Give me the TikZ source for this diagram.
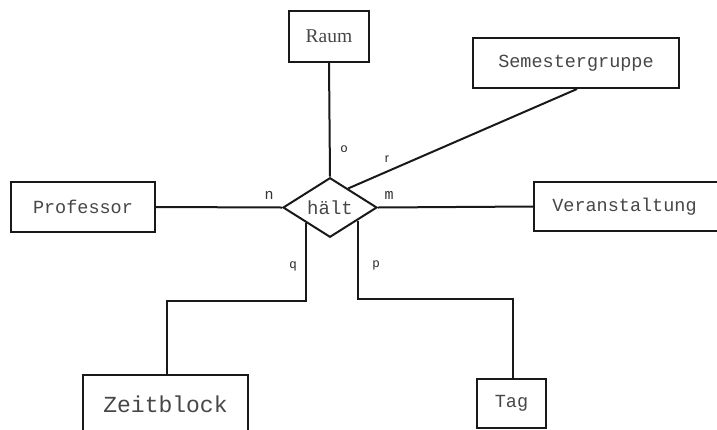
\documentclass[tikz,border=0pt]{standalone}
\usepackage{fontspec}
\setmainfont{Liberation Serif}
\setmonofont{Liberation Mono}
\setsansfont{Liberation Sans}
\usetikzlibrary{shapes.geometric,calc}
\tikzset{
  ent/.style={draw=black!90, line width=2pt, fill=white, inner sep=0pt, font=\fontsize{18.5}{20}\ttfamily, text=black!72},
  rel/.style={draw=black!90, line width=2pt, diamond, inner sep=0pt, minimum width=94pt, minimum height=57pt, font=\fontsize{19}{20}\ttfamily, text=black!72},
  conn/.style={draw=black!90, line width=2pt},
  card/.style={font=\fontsize{15}{16}\ttfamily, text=black!80, inner sep=0pt},
  cards/.style={font=\fontsize{12.5}{14}\sffamily, text=black!85, inner sep=0pt}
}
\begin{document}
\begin{tikzpicture}[x=1pt,y=-1pt]
\useasboundingbox (0,0) rectangle (717,429);
\node[rel] (hal) at (330,207.5) {hält};
\node[ent, minimum width=80pt, minimum height=51pt, font=\fontsize{19.5}{20}\rmfamily] (raum) at (329,36.5) {Raum};
\node[ent, minimum width=206pt, minimum height=50pt] (sem) at (576,63) {Semestergruppe};
\node[ent, minimum width=144pt, minimum height=50pt] (prof) at (83,207) {Professor};
\node[ent, minimum width=197pt, minimum height=49pt, anchor=west] (ver) at (533,206.5) {\hspace*{-16pt}Veranstaltung};
\node[ent, minimum width=165pt, minimum height=65pt, font=\fontsize{23}{24}\ttfamily] (zb) at (165.5,407.5) {\raisebox{7pt}{Zeitblock}};
\node[ent, minimum width=69pt, minimum height=49pt] (tag) at (511.5,403.5) {Tag};

\coordinate (semend) at ($(hal.north)!0.38!(hal.east)$);
\coordinate (zbstart) at ($(hal.south)!0.51!(hal.west)$);
\coordinate (tagstart) at ($(hal.south)!0.574!(hal.east)$);
\coordinate (zbbend) at (167,301);
\coordinate (tagbend) at (513,299);

\draw[conn] (raum.south) -- (hal.north);
\draw[conn] ([xshift=1pt]sem.south) -- (semend);
\draw[conn] (prof.east) -- (hal.west);
\draw[conn] (hal.east) -- (ver.west);
\draw[conn] (zbstart) |- (zbbend) -- (zbbend |- zb.north);
\draw[conn] (tagstart) |- (tagbend) -- (tagbend |- tag.north);

\node[cards] (lo) at (344,149) {o};
\node[cards] (lr) at (387,159) {r};
\node[card] (ln) at (269,195) {n};
\node[card] (lm) at (389,195) {m};
\node[cards] (lq) at (293,266) {q};
\node[cards] (lp) at (376,265) {p};
\end{tikzpicture}
\end{document}
